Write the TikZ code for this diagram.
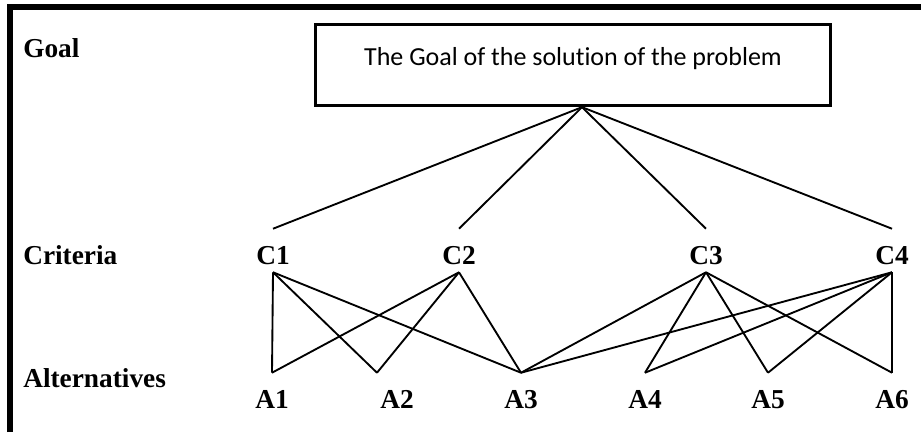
\documentclass[tikz,border=0pt]{standalone}
\usepackage{fontspec}
\setmainfont{Liberation Serif}
\newfontfamily\boxfont[Ligatures=NoCommon]{Carlito}
\usetikzlibrary{positioning}

\tikzset{
  rowlabel/.style={anchor=base west, inner sep=0pt, font=\fontsize{20.5pt}{23pt}\selectfont\bfseries},
  level/.style={anchor=base, inner sep=0pt, text height=26.25pt, text depth=6pt,
    font=\fontsize{20.5pt}{23pt}\selectfont\bfseries},
  goalbox/.style={draw, line width=2.25pt, minimum width=386pt, minimum height=61pt,
    inner sep=0pt, text height=7pt, text depth=7pt, font=\boxfont\fontsize{19.5pt}{22pt}\selectfont},
  link/.style={line width=1.4pt},
}

\begin{document}
\begin{tikzpicture}[x=0.75pt, y=-0.75pt]

    \useasboundingbox (0,0) rectangle (921,432);

    % --- Frame ---
    \draw[line width=4.5pt] (10,432) -- (10,7) -- (921,7);

    % --- Row labels ---
    \node[rowlabel] (goallabel) at (23,57)  {Goal};
    \node[rowlabel] (critlabel) at (23,264) {Criteria};
    \node[rowlabel] (altlabel)  at (23,387) {Alternatives};

    % --- Goal ---
    \node[goalbox] (goal) at (573,65) {The Goal of the solution of the problem};
    \coordinate (hub) at ([xshift=6.75pt]goal.south);

    % --- Criteria ---
    \node[level] (C1) at (273,264) {C1};
    \node[level] (C2) at (459,264) {C2};
    \node[level] (C3) at (706,264) {C3};
    \node[level] (C4) at (892,264) {C4};

    % --- Alternatives ---
    \node[level] (A1) at (272,408) {A1};
    \node[level] (A2) at (397,408) {A2};
    \node[level] (A3) at (521,408) {A3};
    \node[level] (A4) at (645,408) {A4};
    \node[level] (A5) at (768,408) {A5};
    \node[level] (A6) at (892,408) {A6};
    \coordinate (a1) at (A1.north);
    \coordinate (a2) at ([xshift=-15pt]A2.north);
    \coordinate (a3) at (A3.north);
    \coordinate (a4) at (A4.north);
    \coordinate (a5) at (A5.north);
    \coordinate (a6) at (A6.north);

    % Goal to criteria
    \foreach \c in {C1,C2,C3,C4}
        \draw[link] (hub) -- (\c.north);

    % Criteria to alternatives
    \foreach \c/\a in {C1/a1, C1/a2, C1/a3, C2/a1, C2/a2, C2/a3,
                       C3/a3, C3/a4, C3/a5, C3/a6, C4/a3, C4/a4, C4/a5, C4/a6}
        \draw[link] (\c.south) -- (\a);

\end{tikzpicture}
\end{document}
